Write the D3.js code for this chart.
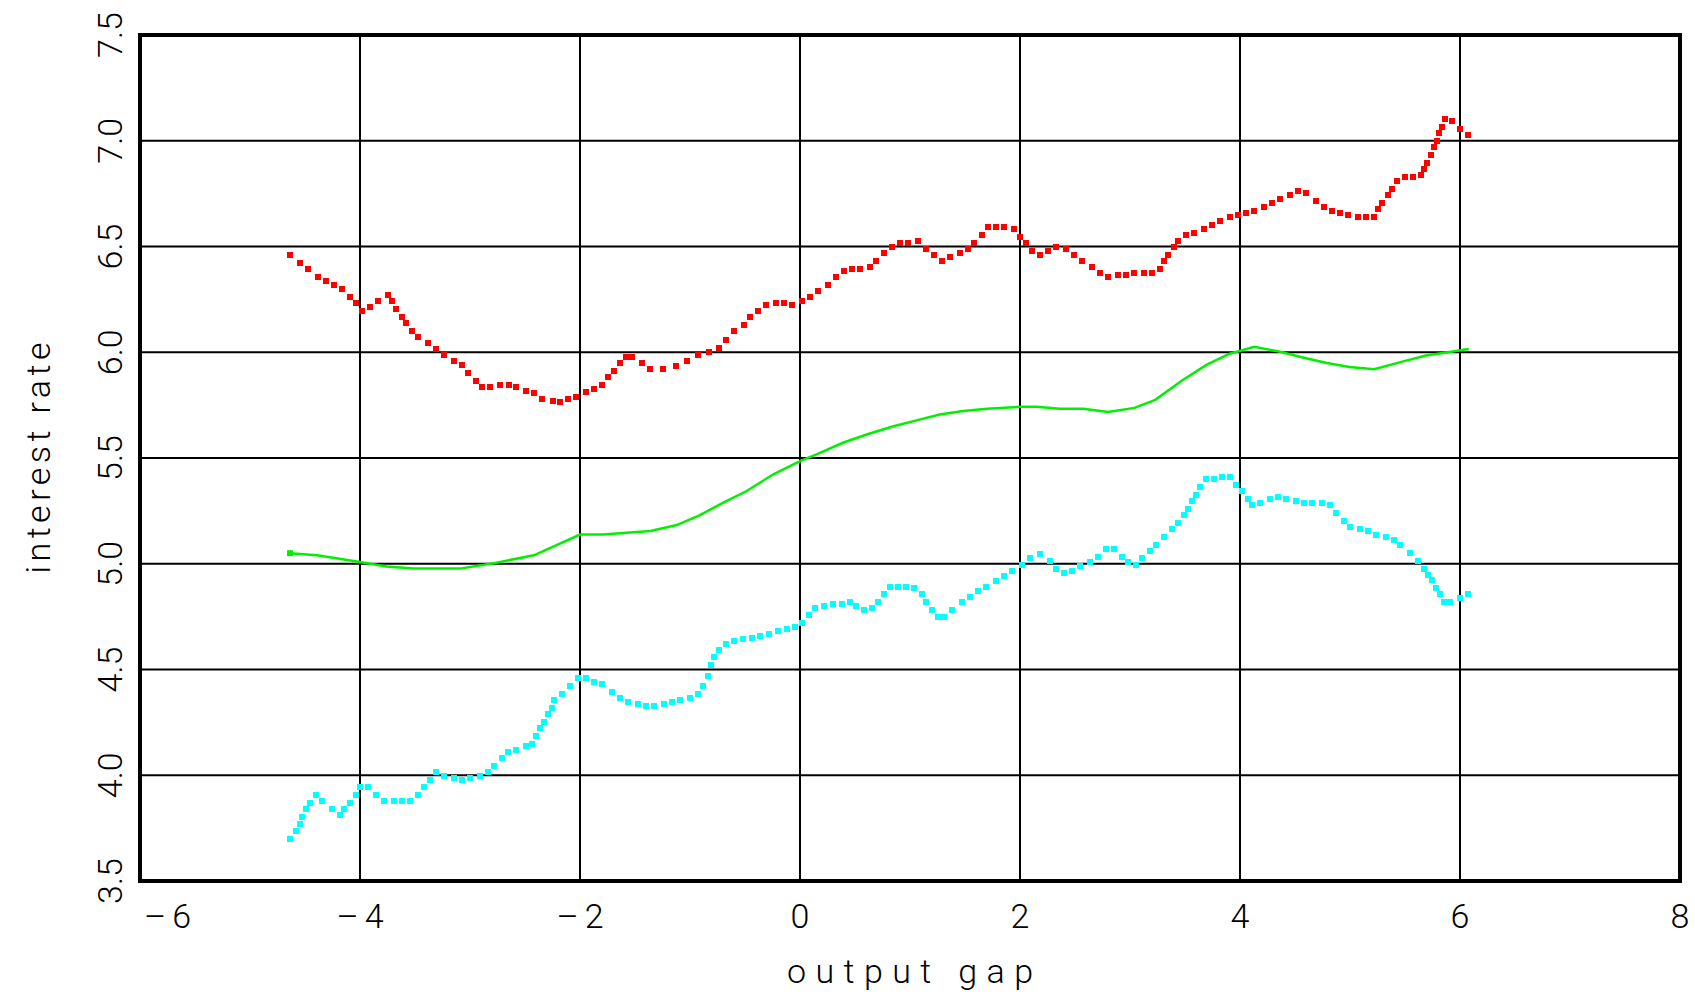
<!DOCTYPE html>
<html>
<head>
<meta charset="utf-8">
<script src="https://cdn.jsdelivr.net/npm/d3@7"></script>
<style>
  body { margin: 0; background: white; }
  text { font-family: Roboto, "DejaVu Sans", sans-serif; font-weight: 300; fill: black; }
</style>
</head>
<body>
<div id="chart"></div>
<script>
// tick values and labels
let xTicks = [-6, -4, -2, 0, 2, 4, 6, 8];
let yTicks = [3.5, 4.0, 4.5, 5.0, 5.5, 6.0, 6.5, 7.0, 7.5];
let xTickLabels = ["\u20136", "\u20134", "\u20132", "0", "2", "4", "6", "8"];
let yTickLabels = ["3.5", "4.0", "4.5", "5.0", "5.5", "6.0", "6.5", "7.0", "7.5"];

// upper band (red, dotted)
let upperBand = [[-4.64,6.461],[-4.545,6.422],[-4.47,6.394],[-4.38,6.356],[-4.31,6.337],[-4.24,6.318],[-4.16,6.299],[-4.09,6.262],[-4.04,6.233],[-3.98,6.195],[-3.91,6.214],[-3.84,6.243],[-3.75,6.271],[-3.71,6.243],[-3.67,6.205],[-3.62,6.167],[-3.58,6.139],[-3.53,6.101],[-3.47,6.073],[-3.38,6.044],[-3.31,6.016],[-3.24,5.988],[-3.15,5.959],[-3.07,5.941],[-3.02,5.903],[-2.95,5.865],[-2.89,5.837],[-2.82,5.837],[-2.73,5.846],[-2.65,5.846],[-2.58,5.837],[-2.49,5.818],[-2.42,5.809],[-2.35,5.78],[-2.25,5.77],[-2.18,5.765],[-2.11,5.78],[-2.04,5.79],[-1.95,5.81],[-1.87,5.827],[-1.80,5.846],[-1.745,5.884],[-1.69,5.912],[-1.64,5.95],[-1.58,5.978],[-1.53,5.978],[-1.44,5.95],[-1.36,5.92],[-1.25,5.92],[-1.13,5.935],[-1.03,5.96],[-0.93,5.985],[-0.83,6.0],[-0.74,6.02],[-0.67,6.06],[-0.6,6.1],[-0.51,6.13],[-0.455,6.167],[-0.38,6.195],[-0.31,6.224],[-0.22,6.233],[-0.145,6.233],[-0.07,6.224],[0.02,6.243],[0.09,6.262],[0.16,6.29],[0.255,6.318],[0.33,6.356],[0.4,6.384],[0.47,6.394],[0.545,6.394],[0.64,6.403],[0.69,6.432],[0.76,6.469],[0.84,6.498],[0.91,6.517],[0.98,6.517],[1.07,6.526],[1.145,6.488],[1.22,6.46],[1.29,6.432],[1.36,6.45],[1.455,6.469],[1.53,6.488],[1.58,6.517],[1.65,6.554],[1.71,6.592],[1.78,6.592],[1.855,6.592],[1.945,6.583],[2.0,6.545],[2.055,6.517],[2.11,6.479],[2.18,6.46],[2.255,6.479],[2.33,6.498],[2.42,6.488],[2.49,6.46],[2.56,6.432],[2.655,6.403],[2.73,6.375],[2.8,6.356],[2.89,6.365],[2.96,6.365],[3.04,6.375],[3.13,6.375],[3.2,6.375],[3.27,6.394],[3.31,6.432],[3.345,6.46],[3.4,6.498],[3.44,6.526],[3.51,6.554],[3.58,6.564],[3.67,6.583],[3.745,6.601],[3.82,6.62],[3.91,6.639],[3.98,6.649],[4.055,6.658],[4.13,6.668],[4.22,6.687],[4.29,6.705],[4.36,6.724],[4.455,6.743],[4.53,6.762],[4.6,6.753],[4.69,6.715],[4.76,6.687],[4.84,6.668],[4.91,6.658],[4.98,6.649],[5.07,6.639],[5.145,6.639],[5.22,6.639],[5.25,6.677],[5.29,6.705],[5.345,6.743],[5.38,6.771],[5.43,6.809],[5.5,6.828],[5.57,6.828],[5.645,6.838],[5.67,6.866],[5.7,6.894],[5.74,6.932],[5.76,6.97],[5.79,6.998],[5.81,7.036],[5.84,7.064],[5.86,7.102],[5.93,7.093],[6.0,7.055],[6.07,7.026]];

// central path (green, solid)
let centralPath = [[-4.636,5.05],[-4.39,5.04],[-4.0,5.008],[-3.76,4.987],[-3.515,4.977],[-3.09,4.977],[-2.76,5.005],[-2.42,5.04],[-2.0,5.138],[-1.79,5.138],[-1.36,5.155],[-1.12,5.183],[-0.91,5.23],[-0.697,5.289],[-0.485,5.344],[-0.242,5.423],[0,5.485],[0.15,5.517],[0.39,5.572],[0.606,5.611],[0.85,5.65],[1.06,5.678],[1.27,5.706],[1.485,5.722],[1.7,5.733],[2.0,5.742],[2.15,5.742],[2.36,5.733],[2.576,5.733],[2.8,5.718],[3.04,5.737],[3.23,5.775],[3.47,5.865],[3.695,5.94],[3.9,5.992],[4.13,6.026],[4.365,6.002],[4.59,5.973],[4.79,5.949],[4.995,5.93],[5.22,5.92],[5.45,5.952],[5.69,5.985],[5.89,6.0],[6.08,6.015]];

// lower band (cyan, dotted)
let lowerBand = [[-4.636,3.699],[-4.58,3.737],[-4.545,3.769],[-4.527,3.803],[-4.49,3.841],[-4.455,3.869],[-4.4,3.907],[-4.345,3.879],[-4.255,3.841],[-4.18,3.813],[-4.145,3.841],[-4.09,3.869],[-4.036,3.907],[-4.0,3.945],[-3.927,3.945],[-3.855,3.907],[-3.78,3.879],[-3.69,3.879],[-3.62,3.879],[-3.545,3.879],[-3.47,3.907],[-3.42,3.945],[-3.364,3.976],[-3.31,4.014],[-3.236,3.995],[-3.145,3.986],[-3.07,3.976],[-3.0,3.986],[-2.91,3.995],[-2.836,4.014],[-2.78,4.042],[-2.71,4.08],[-2.655,4.108],[-2.58,4.118],[-2.49,4.137],[-2.436,4.146],[-2.4,4.184],[-2.364,4.222],[-2.327,4.25],[-2.29,4.288],[-2.255,4.316],[-2.236,4.354],[-2.164,4.382],[-2.09,4.42],[-2.018,4.458],[-1.945,4.458],[-1.873,4.439],[-1.8,4.43],[-1.71,4.392],[-1.636,4.364],[-1.564,4.345],[-1.47,4.335],[-1.4,4.326],[-1.327,4.326],[-1.236,4.335],[-1.164,4.345],[-1.09,4.354],[-1.0,4.364],[-0.927,4.382],[-0.88,4.42],[-0.84,4.47],[-0.81,4.52],[-0.78,4.56],[-0.74,4.59],[-0.67,4.62],[-0.6,4.635],[-0.52,4.645],[-0.44,4.65],[-0.36,4.66],[-0.28,4.67],[-0.2,4.68],[-0.12,4.69],[-0.05,4.70],[0.02,4.72],[0.08,4.76],[0.14,4.79],[0.22,4.80],[0.3,4.81],[0.38,4.81],[0.455,4.817],[0.51,4.798],[0.584,4.779],[0.655,4.789],[0.706,4.817],[0.764,4.855],[0.82,4.892],[0.89,4.892],[0.965,4.892],[1.036,4.883],[1.11,4.855],[1.145,4.817],[1.2,4.779],[1.25,4.75],[1.31,4.75],[1.38,4.779],[1.475,4.817],[1.547,4.845],[1.62,4.873],[1.69,4.892],[1.785,4.92],[1.857,4.94],[1.93,4.968],[2.02,4.996],[2.09,5.025],[2.18,5.044],[2.27,5.015],[2.33,4.977],[2.40,4.958],[2.475,4.968],[2.546,4.987],[2.64,5.006],[2.71,5.034],[2.78,5.068],[2.855,5.068],[2.93,5.034],[2.985,5.006],[3.05,4.996],[3.107,5.025],[3.18,5.062],[3.236,5.09],[3.31,5.128],[3.38,5.166],[3.436,5.195],[3.49,5.232],[3.527,5.26],[3.564,5.298],[3.6,5.327],[3.636,5.364],[3.69,5.402],[3.764,5.402],[3.836,5.412],[3.91,5.412],[3.964,5.374],[4.018,5.346],[4.073,5.308],[4.11,5.28],[4.18,5.289],[4.27,5.308],[4.345,5.317],[4.418,5.308],[4.51,5.298],[4.58,5.289],[4.655,5.289],[4.745,5.289],[4.818,5.28],[4.873,5.242],[4.945,5.204],[5.0,5.176],[5.09,5.166],[5.164,5.157],[5.236,5.138],[5.327,5.128],[5.4,5.11],[5.455,5.09],[5.545,5.053],[5.616,5.015],[5.674,4.977],[5.71,4.949],[5.745,4.921],[5.78,4.883],[5.82,4.855],[5.855,4.817],[5.91,4.817],[6.0,4.836],[6.07,4.855]];

let width = 1695;
let height = 996;
let margin = {left: 140, right: 15, top: 35, bottom: 115};
let dot = 6;

let x = d3.scaleLinear().domain([-6, 8]).range([margin.left, width - margin.right]);
let y = d3.scaleLinear().domain([3.5, 7.5]).range([height - margin.bottom, margin.top]);

let svg = d3.select("#chart").append("svg")
    .attr("width", width)
    .attr("height", height);

svg.append("rect")
    .attr("width", width)
    .attr("height", height)
    .attr("fill", "white");

// grid lines
svg.append("g").selectAll("line")
    .data(xTicks)
    .enter().append("line")
    .attr("x1", d => x(d)).attr("x2", d => x(d))
    .attr("y1", y(3.5)).attr("y2", y(7.5))
    .attr("stroke", "black")
    .attr("stroke-width", 2);

svg.append("g").selectAll("line")
    .data(yTicks)
    .enter().append("line")
    .attr("y1", d => y(d)).attr("y2", d => y(d))
    .attr("x1", x(-6)).attr("x2", x(8))
    .attr("stroke", "black")
    .attr("stroke-width", 2);

// green line with start marker
let line = d3.line().x(d => x(d[0])).y(d => y(d[1]));

svg.append("path")
    .datum(centralPath)
    .attr("d", line)
    .attr("fill", "none")
    .attr("stroke", "#00f000")
    .attr("stroke-width", 2.5);

svg.append("rect")
    .attr("x", x(centralPath[0][0]) - dot / 2)
    .attr("y", y(centralPath[0][1]) - dot / 2)
    .attr("width", dot).attr("height", dot)
    .attr("fill", "#00f000");

// dotted bands
function drawDots(data, color) {
    svg.append("g").selectAll("rect")
        .data(data)
        .enter().append("rect")
        .attr("x", d => x(d[0]) - dot / 2)
        .attr("y", d => y(d[1]) - dot / 2)
        .attr("width", dot)
        .attr("height", dot)
        .attr("fill", color)
        .attr("shape-rendering", "crispEdges");
}
drawDots(upperBand, "#ff0000");
drawDots(lowerBand, "#00ffff");

// frame
svg.append("rect")
    .attr("x", x(-6)).attr("y", y(7.5))
    .attr("width", x(8) - x(-6))
    .attr("height", y(3.5) - y(7.5))
    .attr("fill", "none")
    .attr("stroke", "black")
    .attr("stroke-width", 4);

// x tick labels (first one pushed inside so it is not clipped)
svg.append("g").selectAll("text")
    .data(xTicks)
    .enter().append("text")
    .attr("x", (d, i) => i == 0 ? x(d) + 4 : (d < 0 ? x(d) + 3 : x(d)))
    .attr("y", 928)
    .attr("text-anchor", (d, i) => i == 0 ? "start" : "middle")
    .attr("font-size", 34)
    .attr("letter-spacing", d => d < 0 ? 6 : 0)
    .text((d, i) => xTickLabels[i]);

// y tick labels, rotated
svg.append("g").selectAll("text")
    .data(yTicks)
    .enter().append("text")
    .attr("transform", d => "translate(122," + y(d) + ") rotate(-90)")
    .attr("text-anchor", "middle")
    .attr("font-size", 34)
    .text((d, i) => yTickLabels[i]);

// axis titles
svg.append("text")
    .attr("x", (x(-6) + x(8)) / 2)
    .attr("y", 983)
    .attr("text-anchor", "middle")
    .attr("font-size", 34)
    .attr("textLength", 246)
    .attr("lengthAdjust", "spacing")
    .text("output gap");

svg.append("text")
    .attr("transform", "translate(50," + (y(3.5) + y(7.5)) / 2 + ") rotate(-90)")
    .attr("text-anchor", "middle")
    .attr("font-size", 34)
    .attr("textLength", 231)
    .attr("lengthAdjust", "spacing")
    .text("interest rate");
</script>
</body>
</html>
